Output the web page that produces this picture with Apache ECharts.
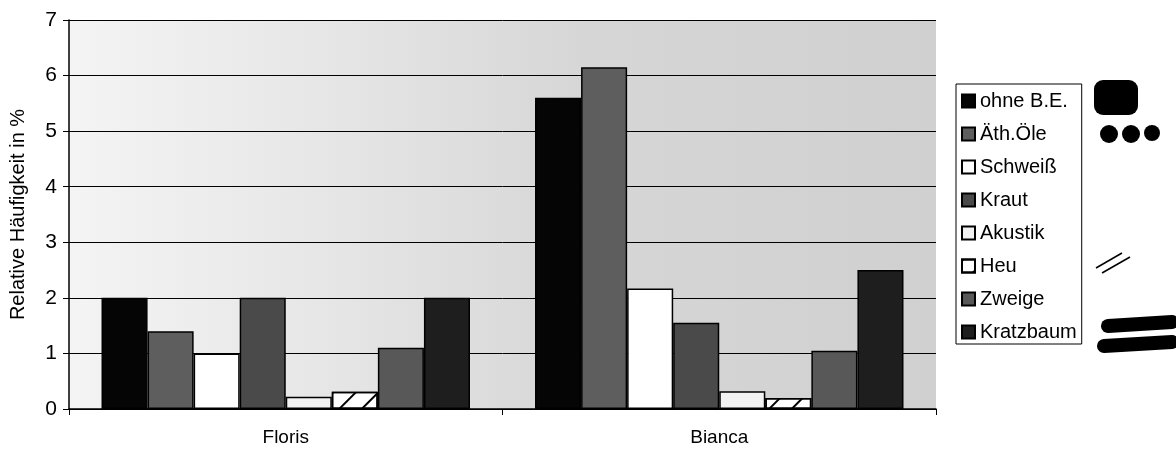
<!DOCTYPE html>
<html>
<head>
<meta charset="utf-8">
<script src="https://cdn.jsdelivr.net/npm/echarts@6/dist/echarts.min.js"></script>
<style>
  html, body { margin: 0; padding: 0; background: #fff; }
  #main { width: 1176px; height: 449px; }
</style>
</head>
<body>
<div id="main"></div>
<script>
// Kategorien und Werte
var categories = ['Floris', 'Bianca'];
var seriesNames = ['ohne B.E.', 'Äth.Öle', 'Schweiß', 'Kraut', 'Akustik', 'Heu', 'Zweige', 'Kratzbaum'];
var ohneBE    = [2.0, 5.6];
var aethOele  = [1.4, 6.15];
var schweiss  = [1.0, 2.17];
var kraut     = [2.0, 1.55];
var akustik   = [0.22, 0.32];
var heu       = [0.31, 0.2];
var zweige    = [1.1, 1.05];
var kratzbaum = [2.0, 2.5];
var yTicks = [0, 1, 2, 3, 4, 5, 6, 7];

var myChart = echarts.init(document.getElementById('main'));

var font = 'Liberation Sans, Arial, sans-serif';

// Füllungen je Reihe (Graustufen wie im Scan)
var fills = ['#050505', '#5e5e5e', '#ffffff', '#4a4a4a', '#f2f2f2', '#ffffff', '#585858', '#1e1e1e'];
var values = [ohneBE, aethOele, schweiss, kraut, akustik, heu, zweige, kratzbaum];

var series = seriesNames.map(function (name, i) {
    var s = {
        name: name,
        type: 'bar',
        barGap: '0%',
        barCategoryGap: '15%',
        itemStyle: {
            color: fills[i],
            borderColor: '#000',
            borderWidth: 1.5
        },
        data: values[i]
    };
    if (name === 'Heu') { // schraffiert
        s.itemStyle.decal = {
            symbol: 'rect',
            symbolSize: 1,
            color: '#000',
            dashArrayX: [1, 0],
            dashArrayY: [2, 14],
            rotation: -Math.PI / 4
        };
    }
    return s;
});

var option = {
    animation: false,
    backgroundColor: '#fff',
    grid: {
        left: 68, right: 240, top: 20, bottom: 40,
        show: true,
        borderWidth: 0,
        backgroundColor: {
            type: 'linear', x: 0, y: 0, x2: 1, y2: 0,
            colorStops: [
                { offset: 0, color: '#f4f4f4' },
                { offset: 0.3, color: '#e6e6e6' },
                { offset: 0.6, color: '#d6d6d6' },
                { offset: 1, color: '#d0d0d0' }
            ]
        }
    },
    legend: {
        orient: 'vertical',
        left: 956,
        top: 84,
        data: seriesNames,
        icon: 'rect',
        itemWidth: 13,
        itemHeight: 13,
        itemGap: 13,
        padding: [7, 5, 2, 5],
        borderColor: '#000',
        borderWidth: 1,
        backgroundColor: '#fff',
        textStyle: { fontFamily: font, fontSize: 20, color: '#000', lineHeight: 20 }
    },
    xAxis: {
        type: 'category',
        data: categories,
        axisLine: { lineStyle: { color: '#000', width: 1.5 } },
        axisTick: { show: true, length: 6, lineStyle: { color: '#000' } },
        axisLabel: { fontFamily: font, fontSize: 19, color: '#000', margin: 19 }
    },
    yAxis: {
        type: 'value',
        min: 0,
        max: 7,
        interval: 1,
        name: 'Relative Häufigkeit in %',
        nameLocation: 'middle',
        nameGap: 41,
        nameTextStyle: { fontFamily: font, fontSize: 20, color: '#000' },
        axisLine: { show: true, lineStyle: { color: '#000', width: 1.5 } },
        axisTick: { show: true, length: 6, lineStyle: { color: '#000' } },
        axisLabel: {
            fontFamily: font, fontSize: 21, color: '#000', margin: 12,
            formatter: function (v) { return yTicks.indexOf(v) >= 0 ? String(v) : ''; }
        },
        splitLine: { lineStyle: { color: '#000', width: 1 } }
    },
    // handschriftliche Markierungen rechts neben der Legende
    graphic: [
        { type: 'rect', shape: { x: 1094, y: 80, width: 44, height: 35, r: 9 }, style: { fill: '#000' } },
        { type: 'circle', shape: { cx: 1109, cy: 134, r: 9 }, style: { fill: '#000' } },
        { type: 'circle', shape: { cx: 1131, cy: 134, r: 9 }, style: { fill: '#000' } },
        { type: 'circle', shape: { cx: 1152, cy: 133, r: 8 }, style: { fill: '#000' } },
        { type: 'line', shape: { x1: 1096, y1: 268, x2: 1122, y2: 253 }, style: { stroke: '#000', lineWidth: 1.5 } },
        { type: 'line', shape: { x1: 1102, y1: 273, x2: 1130, y2: 257 }, style: { stroke: '#000', lineWidth: 1.5 } },
        { type: 'line', shape: { x1: 1108, y1: 326, x2: 1172, y2: 322 }, style: { stroke: '#000', lineWidth: 14, lineCap: 'round' } },
        { type: 'line', shape: { x1: 1104, y1: 346, x2: 1172, y2: 342 }, style: { stroke: '#000', lineWidth: 14, lineCap: 'round' } }
    ],
    series: series
};

myChart.setOption(option);
</script>
</body>
</html>
